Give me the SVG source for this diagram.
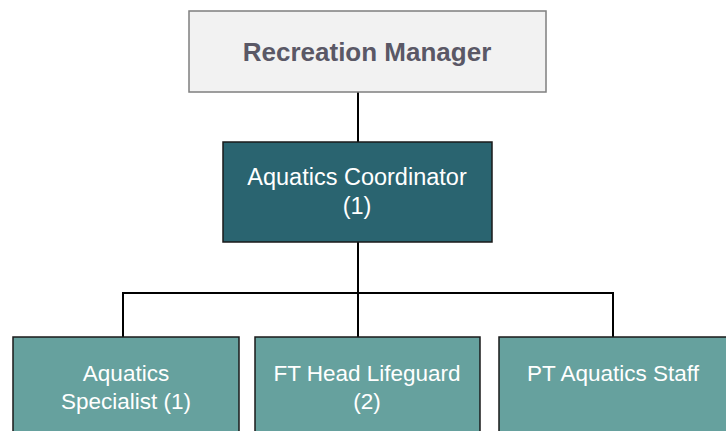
<svg xmlns="http://www.w3.org/2000/svg" width="726" height="431" viewBox="0 0 726 431">
<style>
.t{font-family:"Liberation Sans",Arial,sans-serif;text-anchor:middle}
.top{fill:#f2f2f2;stroke:#7f7f7f;stroke-width:1.5}
.coord{fill:#2a6470;stroke:#1a1a1a;stroke-width:1.5}
.sub{fill:#66a19e;stroke:#1a1a1a;stroke-width:1.5}
.w{fill:#ffffff;font-size:22.5px}
.c{fill:none;stroke:#000;stroke-width:2}
</style>
<rect width="726" height="431" fill="#fff"/>
<g id="connectors">
<path class="c" d="M358 92V142"/>
<path class="c" d="M358 242V337"/>
<path class="c" d="M123 337V293H613V337"/>
</g>
<g id="recreation-manager">
<rect class="top" x="189" y="11" width="357" height="81"/>
<text class="t" x="367" y="61" font-size="26" font-weight="bold" fill="#5a5866">Recreation Manager</text>
</g>
<g id="aquatics-coordinator">
<rect class="coord" x="223" y="142" width="269" height="100"/>
<text class="t w" x="357" y="185" style="font-size:23.5px">Aquatics Coordinator</text>
<text class="t w" x="357" y="214" style="font-size:23.5px">(1)</text>
</g>
<g id="aquatics-specialist">
<rect class="sub" x="13" y="337" width="226" height="100"/>
<text class="t w" x="126" y="381">Aquatics</text>
<text class="t w" x="126" y="409">Specialist (1)</text>
</g>
<g id="ft-head-lifeguard">
<rect class="sub" x="255" y="337" width="225" height="100"/>
<text class="t w" x="367" y="381">FT Head Lifeguard</text>
<text class="t w" x="367" y="409">(2)</text>
</g>
<g id="pt-aquatics-staff">
<rect class="sub" x="499" y="337" width="230" height="100"/>
<text class="t w" x="613" y="381">PT Aquatics Staff</text>
</g>
</svg>
